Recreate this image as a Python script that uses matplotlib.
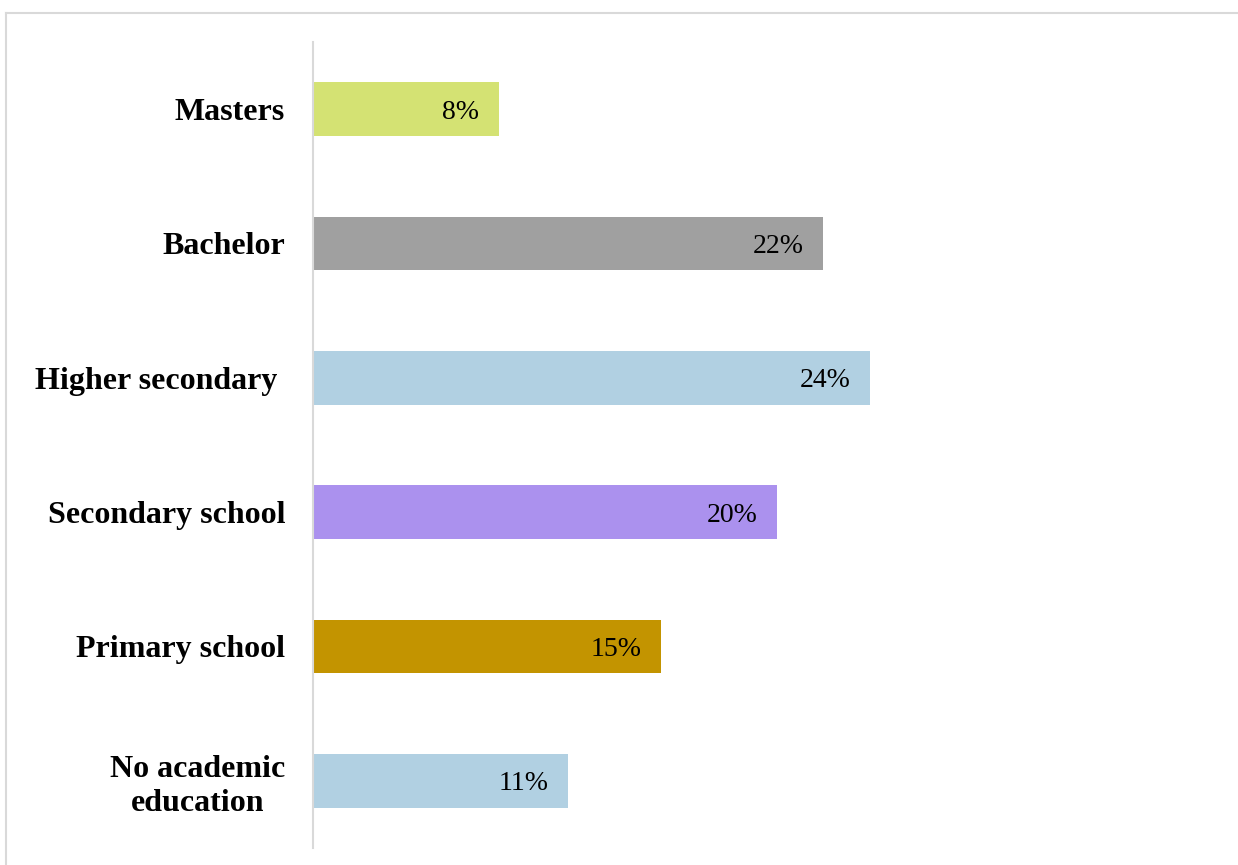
import matplotlib
matplotlib.use("Agg")
import matplotlib.pyplot as plt
from matplotlib.lines import Line2D

# Education level distribution (bottom to top)
categories = ["No academic\neducation", "Primary school", "Secondary school",
              "Higher secondary ", "Bachelor", "Masters"]
values = [11, 15, 20, 24, 22, 8]
colors = ["#b1d0e2", "#c39400", "#ab91ee", "#b1d0e2", "#a0a0a0", "#d4e273"]

plt.rcParams["font.family"] = ["Liberation Serif", "DejaVu Serif"]

W, H = 1238, 865
fig = plt.figure(figsize=(W / 100, H / 100), dpi=100)
ax = fig.add_axes([313 / W, 1 - 848 / H, 1 - 313 / W - 0.02, (848 - 42) / H])

y = list(range(len(categories)))
bars = ax.barh(y, values, height=0.4, color=colors)

ax.set_ylim(-0.5, len(categories) - 0.5)
ax.set_xlim(0, (0.98 * W - 313) / 23.2)

for rect, v in zip(bars, values):
    ax.annotate(f"{v}%", xy=(rect.get_width(), rect.get_y() + rect.get_height() / 2),
                xytext=(-14, 0), textcoords="offset points",
                ha="right", va="center_baseline", fontsize=20, color="black")

ax.set_yticks(y)
ax.set_yticklabels(categories, fontsize=23, fontweight="bold",
                   multialignment="center", linespacing=1.2)
ax.tick_params(axis="y", length=0, pad=20)
ax.set_xticks([])

for side in ("top", "right", "bottom"):
    ax.spines[side].set_visible(False)
ax.spines["left"].set_color("#d9d9d9")
ax.spines["left"].set_linewidth(1.5)

# Light frame along top and left of the chart area
fig.add_artist(Line2D([5.5 / W, 1.0], [1 - 12.5 / H, 1 - 12.5 / H],
                      transform=fig.transFigure, color="#d9d9d9", lw=1.5))
fig.add_artist(Line2D([5.5 / W, 5.5 / W], [0, 1 - 12.5 / H],
                      transform=fig.transFigure, color="#d9d9d9", lw=1.5))

fig.savefig("out.png", dpi=100, facecolor="white")
